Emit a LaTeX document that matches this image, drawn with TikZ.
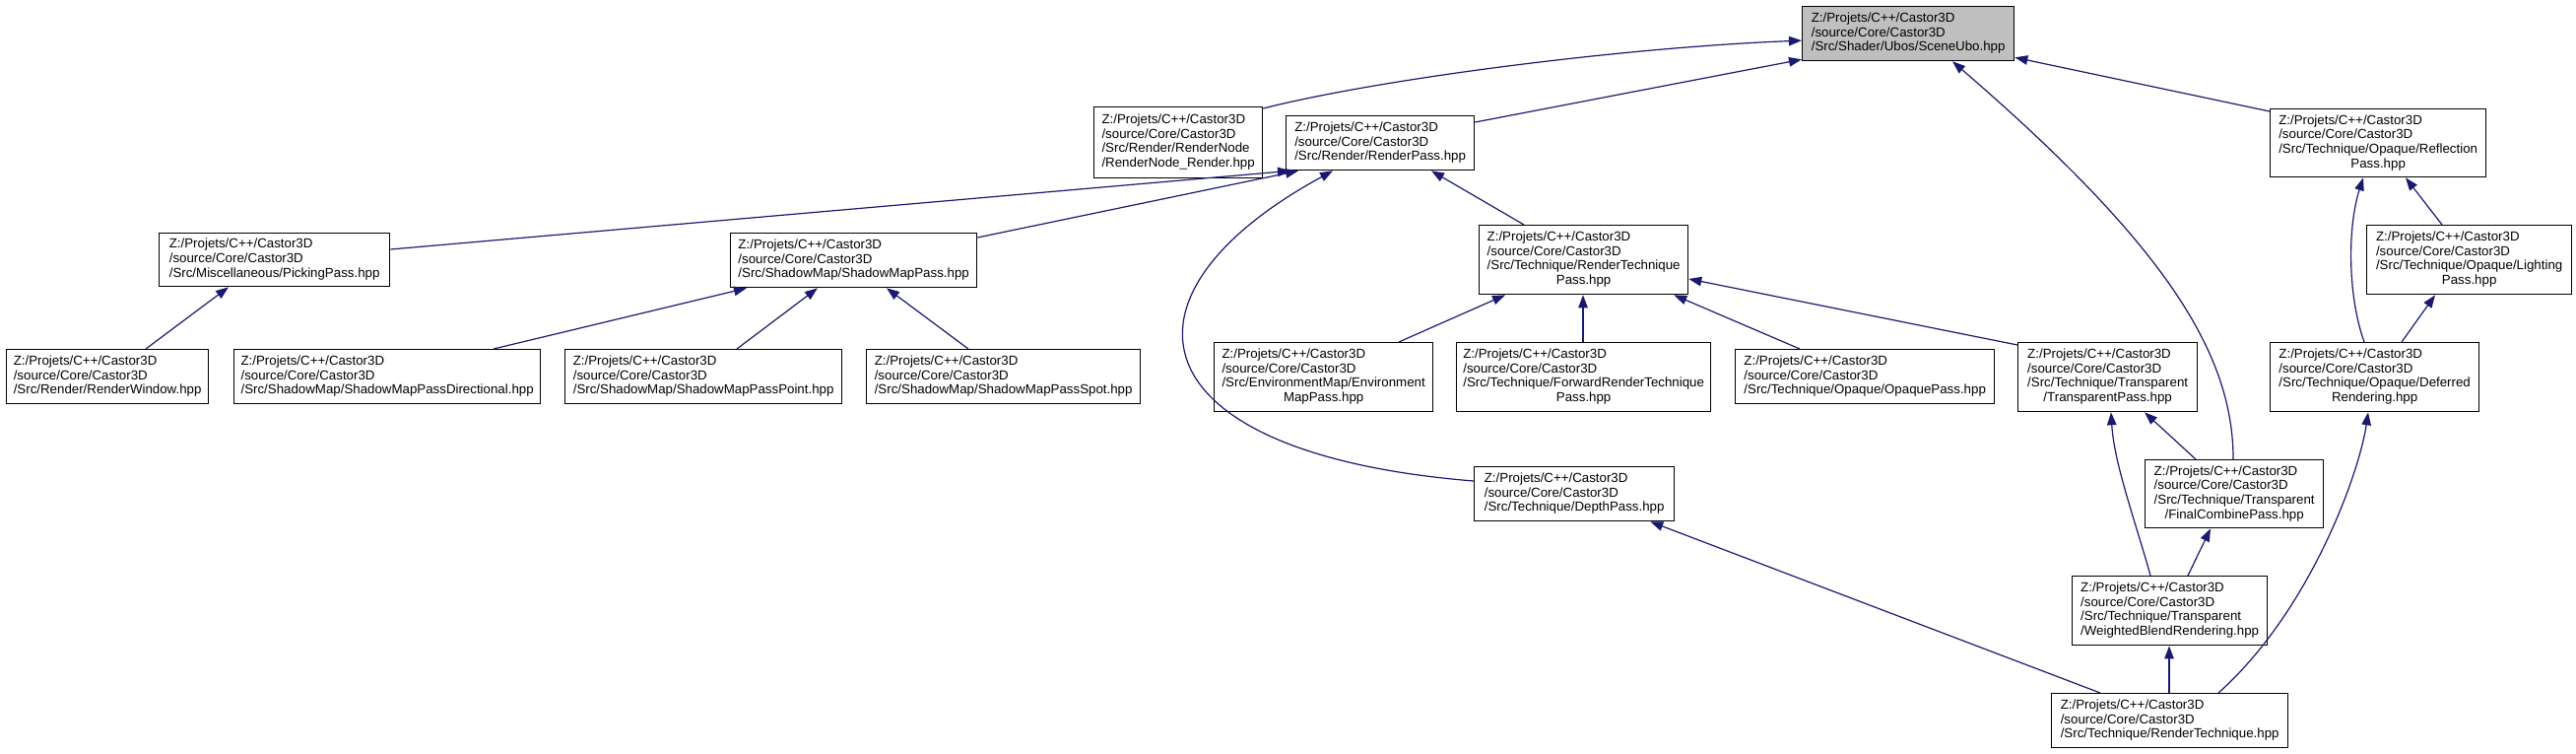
\documentclass[tikz,border=0pt]{standalone}
\usepackage{fontspec}
\setmainfont{Liberation Sans}
\usetikzlibrary{arrows.meta}
\definecolor{edgeblue}{RGB}{25,25,112}
\definecolor{hlgray}{RGB}{191,191,191}
\newcommand{\lblfont}{\fontsize{13.3}{14.7}\selectfont}
\newcommand{\lbl}[2]{\begin{tabular}{@{}l@{}}Z:/Projets/C++/Castor3D\\/source/Core/Castor3D\\#1\multicolumn{1}{@{}c@{}}{#2}\end{tabular}}
\tikzset{
  box/.style={draw=black, line width=1.3pt, fill=white, inner sep=0pt, anchor=north west, font=\lblfont},
  dep/.style={draw=edgeblue, line width=1.2pt, -{Triangle[length=13pt,width=9.5pt]}},
}
\begin{document}
\begin{tikzpicture}[x=1pt,y=-1pt]
\useasboundingbox (0,0) rectangle (2615,764);
% nodes
\node[box, fill=hlgray, minimum width=215pt, minimum height=55pt] (scene) at (1829,6) {\lbl{}{/Src/Shader/Ubos/SceneUbo.hpp}};
\node[box, minimum width=171pt, minimum height=72pt] (rnode) at (1110,108) {\lbl{/Src/Render/RenderNode\\}{/RenderNode\_Render.hpp}};
\node[box, minimum width=191pt, minimum height=55pt] (rpass) at (1305,117) {\lbl{}{/Src/Render/RenderPass.hpp}};
\node[box, minimum width=219pt, minimum height=69pt] (refl) at (2304,110) {\lbl{/Src/Technique/Opaque/Reflection\\}{Pass.hpp}};
\node[box, minimum width=234pt, minimum height=54pt] (picking) at (161,236) {\lbl{}{/Src/Miscellaneous/PickingPass.hpp}};
\node[box, minimum width=250pt, minimum height=55pt] (smpass) at (741,236) {\lbl{}{/Src/ShadowMap/ShadowMapPass.hpp}};
\node[box, minimum width=212pt, minimum height=70pt] (rtpass) at (1501,228) {\lbl{/Src/Technique/RenderTechnique\\}{Pass.hpp}};
\node[box, minimum width=208pt, minimum height=70pt] (lighting) at (2402,228) {\lbl{/Src/Technique/Opaque/Lighting\\}{Pass.hpp}};
\node[box, minimum width=205pt, minimum height=55pt] (rwindow) at (6,354) {\lbl{}{/Src/Render/RenderWindow.hpp}};
\node[box, minimum width=311pt, minimum height=55pt] (smdir) at (237,354) {\lbl{}{/Src/ShadowMap/ShadowMapPassDirectional.hpp}};
\node[box, minimum width=281pt, minimum height=55pt] (smpoint) at (573,354) {\lbl{}{/Src/ShadowMap/ShadowMapPassPoint.hpp}};
\node[box, minimum width=278pt, minimum height=55pt] (smspot) at (879,354) {\lbl{}{/Src/ShadowMap/ShadowMapPassSpot.hpp}};
\node[box, minimum width=222pt, minimum height=70pt] (envmap) at (1232,347) {\lbl{/Src/EnvironmentMap/Environment\\}{MapPass.hpp}};
\node[box, minimum width=258pt, minimum height=70pt] (fwd) at (1478,347) {\lbl{/Src/Technique/ForwardRenderTechnique\\}{Pass.hpp}};
\node[box, minimum width=263pt, minimum height=55pt] (opaque) at (1761,354) {\lbl{}{/Src/Technique/Opaque/OpaquePass.hpp}};
\node[box, minimum width=182pt, minimum height=70pt] (transp) at (2048,347) {\lbl{/Src/Technique/Transparent\\}{/TransparentPass.hpp}};
\node[box, minimum width=212pt, minimum height=70pt] (deferred) at (2304,347) {\lbl{/Src/Technique/Opaque/Deferred\\}{Rendering.hpp}};
\node[box, minimum width=203pt, minimum height=55pt] (depth) at (1496,473) {\lbl{}{/Src/Technique/DepthPass.hpp}};
\node[box, minimum width=181pt, minimum height=69pt] (finalc) at (2177,466) {\lbl{/Src/Technique/Transparent\\}{/FinalCombinePass.hpp}};
\node[box, minimum width=198pt, minimum height=70pt] (wblend) at (2103,584) {\lbl{/Src/Technique/Transparent\\}{/WeightedBlendRendering.hpp}};
\node[box, minimum width=240pt, minimum height=55pt] (rtech) at (2082,703) {\lbl{}{/Src/Technique/RenderTechnique.hpp}};
% edges
\draw[dep] ([yshift=-2pt]rnode.north east) .. controls (1400,80) and (1650,48) .. ([yshift=-7pt]scene.west);
\draw[dep] ([yshift=-7pt]rpass.north east) -- ([yshift=2pt]scene.south west);
\draw[dep] ([yshift=-3pt]refl.north west) -- ([yshift=4pt]scene.south east);
\draw[dep] ([xshift=90pt]finalc.north west) .. controls (2267,360) and (2200,250) .. ([xshift=153pt]scene.south west);
\draw[dep] ([yshift=-17pt]picking.north east) -- ([xshift=5pt]rpass.south west);
\draw[dep] ([yshift=-5pt]smpass.north east) -- ([xshift=13pt]rpass.south west);
\draw[dep] ([yshift=-15pt]depth.north west) .. controls (1150,460) and (1120,300) .. ([xshift=48pt]rpass.south west);
\draw[dep] ([xshift=46pt]rtpass.north west) -- ([xshift=148pt]rpass.south west);
\draw[dep] ([xshift=142pt]rwindow.north west) -- ([xshift=71pt]picking.south west);
\draw[dep] ([xshift=264pt]smdir.north west) -- ([xshift=17pt]smpass.south west);
\draw[dep] ([xshift=175pt]smpoint.north west) -- ([xshift=89pt]smpass.south west);
\draw[dep] ([xshift=104pt]smspot.north west) -- ([xshift=159pt]smpass.south west);
\draw[dep] ([xshift=188pt]envmap.north west) -- ([xshift=27pt]rtpass.south west);
\draw[dep] ([xshift=129pt]fwd.north west) -- ([xshift=106pt]rtpass.south west);
\draw[dep] ([xshift=66pt]opaque.north west) -- ([xshift=-15pt]rtpass.south east);
\draw[dep] ([yshift=-3pt]transp.north west) -- ([yshift=-55pt]rtpass.north east);
\draw[dep] ([xshift=52pt]finalc.north west) -- ([xshift=129pt]transp.south west);
\draw[dep] ([xshift=80pt]wblend.north west) .. controls (2168,530) and (2146,470) .. ([xshift=95pt]transp.south west);
\draw[dep] ([xshift=118pt]wblend.north west) -- ([xshift=67pt]finalc.south west);
\draw[dep] ([xshift=120pt]rtech.north west) -- ([xshift=99pt]wblend.south west);
\draw[dep] ([xshift=50pt]rtech.north west) -- ([xshift=-25pt]depth.south east);
\draw[dep] ([xshift=170pt]rtech.north west) .. controls (2345,620) and (2395,480) .. ([xshift=100pt]deferred.south west);
\draw[dep] ([xshift=77pt]lighting.north west) -- ([xshift=138pt]refl.south west);
\draw[dep] ([xshift=96pt]deferred.north west) .. controls (2383,300) and (2383,230) .. ([xshift=95pt]refl.south west);
\draw[dep] ([xshift=134pt]deferred.north west) -- ([xshift=70pt]lighting.south west);
\end{tikzpicture}
\end{document}
